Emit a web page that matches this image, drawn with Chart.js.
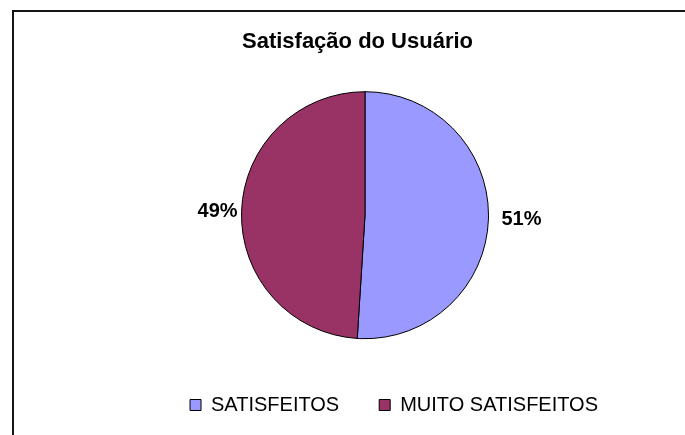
<!DOCTYPE html>
<html>
<head>
<meta charset="utf-8">
<style>
  html, body { margin: 0; padding: 0; background: #fff; }
  #wrap { position: relative; width: 685px; height: 435px; }
</style>
<script src="https://cdn.jsdelivr.net/npm/chart.js@4/dist/chart.umd.min.js"></script>
</head>
<body>
<div id="wrap"><canvas id="c" width="685" height="435"></canvas></div>
<script>
// Survey result: share of respondents per satisfaction level (percent)
const categories = ['SATISFEITOS', 'MUITO SATISFEITOS'];
const shares = [51, 49];
const sliceColors = ['#9999FF', '#993366'];
const chartTitle = 'Satisfação do Usuário';

const FONT = "'Liberation Sans', Arial, Helvetica, sans-serif";

// Thin frame along the top and left edges of the chart
const framePlugin = {
  id: 'frame',
  beforeDraw(chart) {
    const ctx = chart.ctx;
    ctx.save();
    ctx.fillStyle = '#ffffff';
    ctx.fillRect(0, 0, chart.width, chart.height);
    ctx.fillStyle = '#151515';
    ctx.fillRect(12, 10, chart.width - 12, 2);
    ctx.fillRect(12, 10, 2, chart.height - 10);
    ctx.restore();
  }
};

// Percentage labels placed just outside each slice
const outsideLabels = {
  id: 'outsideLabels',
  afterDatasetsDraw(chart) {
    const ctx = chart.ctx;
    const meta = chart.getDatasetMeta(0);
    const values = chart.data.datasets[0].data;
    ctx.save();
    ctx.font = 'bold 20px ' + FONT;
    ctx.fillStyle = '#000';
    ctx.textBaseline = 'middle';
    meta.data.forEach((arc, i) => {
      const p = arc.getProps(['x', 'y', 'startAngle', 'endAngle', 'outerRadius'], true);
      const mid = (p.startAngle + p.endAngle) / 2;
      const right = Math.cos(mid) >= 0;
      const gap = right ? 13 : 4;
      const r = p.outerRadius + gap;
      const x = p.x + Math.cos(mid) * r;
      const y = p.y + Math.sin(mid) * r;
      ctx.textAlign = right ? 'left' : 'right';
      ctx.fillText(values[i] + '%', x, y);
    });
    ctx.restore();
  }
};

new Chart(document.getElementById('c'), {
  type: 'pie',
  data: {
    labels: categories,
    datasets: [{
      data: shares,
      backgroundColor: sliceColors,
      borderColor: '#000',
      borderWidth: 1
    }]
  },
  options: {
    responsive: false,
    animation: false,
    events: [],
    radius: 123.5,
    layout: { padding: { left: 77, right: 47, top: 0, bottom: 10 } },
    plugins: {
      title: {
        display: true,
        text: chartTitle,
        color: '#000',
        font: { family: FONT, size: 22, weight: 'bold', lineHeight: 1.2 },
        padding: { top: 29, bottom: 20 }
      },
      // empty left-hand block that nudges the pie to the right
      subtitle: {
        display: true,
        position: 'left',
        text: '',
        font: { family: FONT, size: 15, lineHeight: 1 },
        padding: 0
      },
      legend: {
        display: true,
        position: 'bottom',
        align: 'end',
        labels: {
          color: '#000',
          font: { family: FONT, size: 20 },
          boxWidth: 11,
          boxHeight: 11,
          padding: 40
        }
      },
      tooltip: { enabled: false }
    }
  },
  plugins: [framePlugin, outsideLabels]
});
</script>
</body>
</html>
